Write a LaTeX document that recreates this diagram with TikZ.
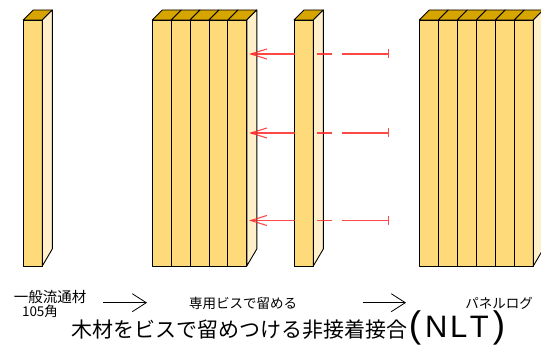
\documentclass[tikz,border=0pt]{standalone}
\usepackage{fontspec}
\newfontfamily\jp{Noto Sans CJK JP}
\newfontfamily\lat{Liberation Sans}
\usetikzlibrary{arrows.meta}
\definecolor{woodfront}{HTML}{FFDA7A}
\definecolor{woodtop}{HTML}{D6A500}
\definecolor{woodside}{HTML}{FFF0C9}
\definecolor{screw}{HTML}{FF2A2A}

\tikzset{
  face/.style={draw=black, line width=0.9pt, line join=round},
  screwline/.style={draw=screw, line width=1.1pt, draw opacity=0.85},
  screwtip/.style={-{Straight Barb[length=16pt,width=10pt,line width=1.1pt]}},
  screwhead/.style={-{Bar[width=9pt,line width=1.3pt]}},
  steparrow/.style={draw=black, line width=0.8pt, -{Straight Barb[length=14pt,width=18pt,line width=0.8pt]}},
  lbl/.style={font=\jp\fontsize{13.5}{14}\selectfont, inner sep=0pt},
}

% one plank seen from the front, with its top face; #1 = left x, #2 = width
\newcommand\plank[2]{%
  \pgfmathsetmacro\xr{#1+#2}
  \filldraw[face, fill=woodfront] (#1,20) rectangle (\xr,266);
  \filldraw[face, fill=woodtop] (#1,20) -- (#1+10,10) -- (\xr+10,10) -- (\xr,20) -- cycle;
}
% right-hand side face of a plank or a panel; #1 = x of the front edge
\newcommand\plankside[1]{%
  \filldraw[face, fill=woodside] (#1,20) -- (#1+10,10) -- (#1+10,249) -- (#1,266) -- cycle;
}

\begin{document}
\begin{tikzpicture}[x=1pt, y=-1pt]
  \clip (0,0) rectangle (541,352);
  \fill[white] (0,0) rectangle (541,352);

  % single 105 mm square timber
  \plank{23.3}{19}
  \plankside{42.3}

  % five timbers being screwed together
  \foreach \i in {0,...,4} {\plank{152.3+18.9*\i}{18.9}}
  \plankside{246.8}

  % the timber added next
  \plank{294}{19.3}
  \plankside{313.3}

  % finished panel log of six timbers
  \foreach \i in {0,...,5} {\plank{419.3+19*\i}{19}}
  \plankside{533.3}

  % screws driven through the added timber
  \foreach \k/\yy in {1/54, 2/133, 3/220.5} {
    \coordinate (tip\k) at (249,\yy);
    \coordinate (in\k) at (295,\yy);
    \coordinate (mida\k) at (317,\yy);
    \coordinate (midb\k) at (331.5,\yy);
    \coordinate (outa\k) at (341.7,\yy);
    \coordinate (head\k) at (389,\yy);
    \draw[screwline, screwtip] (in\k) -- (tip\k);
    \draw[screwline] (mida\k) -- (midb\k);
    \draw[screwline, screwhead] (outa\k) -- (head\k);
  }

  % captions along the bottom
  \node[lbl, font=\jp\fontsize{14.5}{15}\selectfont] (general) at (50,297.5) {一般流通材};
  \node[lbl, font=\jp\fontsize{13.5}{14}\selectfont] (square) at (40,311.5) {105角};
  \node[lbl] (fixing) at (243,303) {専用ビスで留める};
  \node[lbl] (panel) at (499,303) {パネルログ};

  \coordinate (s1a) at (103,302.7);
  \coordinate (s1b) at (147,302.7);
  \coordinate (s2a) at (362.7,302.7);
  \coordinate (s2b) at (406,302.7);
  \draw[steparrow] (s1a) -- (s1b);
  \draw[steparrow] (s2a) -- (s2b);

  % title
  \node[inner sep=0pt, anchor=west] (title) at (71.7,328)
    {{\jp\fontsize{21}{22}\selectfont 木材をビスで留めつける非接着接合}%
     \hspace{1pt}{\lat\fontsize{37}{37}\selectfont (}\hspace{4pt}%
     {\lat\fontsize{31}{31}\selectfont N\hspace{2.5pt}L\hspace{2.5pt}T}\hspace{4pt}%
     {\lat\fontsize{37}{37}\selectfont )}};
\end{tikzpicture}
\end{document}
